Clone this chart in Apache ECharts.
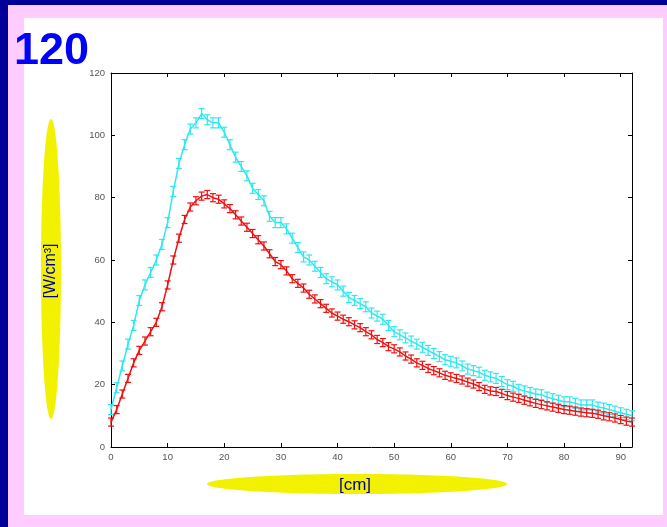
<!DOCTYPE html>
<html><head><meta charset="utf-8">
<script src="https://cdn.jsdelivr.net/npm/echarts@6/dist/echarts.min.js"></script>
<style>html,body{margin:0;padding:0;background:#000099}#c{width:667px;height:527px}</style>
</head><body><div id="c"></div>
<script>
const xPos = [0,1,2,3,4,5,6,7,8,9,10,11,12,13,14,15,16,17,18,19,20,21,22,23,24,25,26,27,28,29,30,31,32,33,34,35,36,37,38,39,40,41,42,43,44,45,46,47,48,49,50,51,52,53,54,55,56,57,58,59,60,61,62,63,64,65,66,67,68,69,70,71,72,73,74,75,76,77,78,79,80,81,82,83,84,85,86,87,88,89,90,91,92];
const cyanVals = [12,19,26,33,39,47,52,56,60,65,72,82,91,97,102,104,107,105,104,104,101,97,93,90,87,83,81,79,74,72,72,70,67,64,61,60,58,56,54,53,52,50,48,47,46,45,43,42,41,39,37,36,35,34,33,32,31,30,29,28,27.5,27,26,25,24.5,24,23,22.5,22,21,20,19.5,18.5,18,17.5,17,16.8,16,15.5,15,14.5,14.5,14,13.5,13.5,13.5,12.8,12.5,12,11.5,11,10.5,10];
const redVals = [8,12,17,22,27,31,34,37,40,45,52,60,67,73,77,79,80.5,81,80,79.5,78,76.5,74.5,72.5,70.5,68.5,66.5,64.5,62,59.5,58.5,56.5,54,52.5,51,49,47.5,46,44.5,43,42,41,40.2,39.2,38.3,37,36,34.5,33.5,32.2,31.5,30.5,29.2,28.2,27,26.2,25.2,24.5,23.8,23,22.5,22,21.5,20.8,20.2,19.4,18.5,18,17.8,17.2,16.5,16,15.6,15,14.5,14,13.6,13.2,12.8,12.4,12,11.8,11.5,11.2,11,10.8,10.5,10,9.7,9.3,8.8,8.3,8];
const cyanErr = 1.6;
const redErr = 1.3;
const xTicks = [0,10,20,30,40,50,60,70,80,90];
const yTicks = [0,20,40,60,80,100,120];
const yLabel = '[W/cm³]';
const xLabel = '[cm]';
const bigLabel = '120';

const chart = echarts.init(document.getElementById('c'), null, {renderer:'canvas'});
function pairs(ys){ return xPos.map((x,i)=>[x, ys[i]]); }
function errSeries(ys, err, color){
  return {
    type:'custom', xAxisIndex:0, yAxisIndex:0, z:3, silent:true,
    data: pairs(ys),
    renderItem: function(params, api){
      const x = api.value(0), y = api.value(1);
      const lo = api.coord([x, y-err]), hi = api.coord([x, y+err]);
      const st = {stroke: color, lineWidth: 1.2};
      return {type:'group', children:[
        {type:'line', shape:{x1:lo[0],y1:lo[1],x2:hi[0],y2:hi[1]}, style:st},
        {type:'line', shape:{x1:lo[0]-3,y1:lo[1],x2:lo[0]+3,y2:lo[1]}, style:st},
        {type:'line', shape:{x1:hi[0]-3,y1:hi[1],x2:hi[0]+3,y2:hi[1]}, style:st}
      ]};
    }
  };
}
const axLabelStyle = {color:'#555', fontSize:9.5, fontFamily:'Liberation Sans, Arial'};
chart.setOption({
  animation:false,
  backgroundColor:'transparent',
  graphic:[
    {type:'rect', z:-10, shape:{x:8,y:5,width:659,height:522}, style:{fill:'#ffccff'}},
    {type:'rect', z:-9, shape:{x:24,y:18,width:639,height:497}, style:{fill:'#ffffff'}},
    {type:'text', z:10, left:14, top:29, style:{text:bigLabel, fill:'#0000ff', font:'bold 45px "Liberation Sans", Arial'}},
    {type:'ellipse', z:-5, shape:{cx:51, cy:269, rx:10, ry:150}, style:{fill:'#f2f200'}},
    {type:'text', z:10, x:51, y:271, rotation:Math.PI/2, style:{text:yLabel, fill:'#000099', font:'16px "Liberation Sans", Arial', align:'center', verticalAlign:'middle'}},
    {type:'ellipse', z:-5, shape:{cx:357, cy:484, rx:150, ry:10}, style:{fill:'#f2f200'}},
    {type:'text', z:10, x:355, y:485, style:{text:xLabel, fill:'#000099', font:'17px "Liberation Sans", Arial', align:'center', verticalAlign:'middle'}}
  ],
  grid:{left:111, top:73, right:35, bottom:80, show:false},
  xAxis:[
    {type:'value', min:0, max:92, interval:10, position:'bottom',
     axisLine:{show:true, onZero:false, lineStyle:{color:'#000', width:1}},
     axisTick:{show:true, inside:true, length:4, lineStyle:{color:'#000'}},
     axisLabel:Object.assign({margin:5, showMaxLabel:false, formatter:v=>xTicks.includes(v)?String(v):''}, axLabelStyle),
     splitLine:{show:false}},
    {type:'value', min:0, max:92, interval:10, position:'top',
     axisLine:{show:true, onZero:false, lineStyle:{color:'#000', width:1}},
     axisTick:{show:true, inside:true, length:4, lineStyle:{color:'#000'}},
     axisLabel:{show:false}, splitLine:{show:false}}
  ],
  yAxis:[
    {type:'value', min:0, max:120, interval:20, position:'left',
     axisLine:{show:true, onZero:false, lineStyle:{color:'#000', width:1}},
     axisTick:{show:true, inside:true, length:4, lineStyle:{color:'#000'}},
     axisLabel:Object.assign({margin:6, formatter:v=>yTicks.includes(v)?String(v):''}, axLabelStyle),
     splitLine:{show:false}},
    {type:'value', min:0, max:120, interval:20, position:'right',
     axisLine:{show:true, onZero:false, lineStyle:{color:'#000', width:1}},
     axisTick:{show:true, inside:true, length:4, lineStyle:{color:'#000'}},
     axisLabel:{show:false}, splitLine:{show:false}}
  ],
  series:[
    {type:'line', data:pairs(cyanVals), showSymbol:false, symbol:'none', lineStyle:{color:'#2ee8f0', width:1.5}, z:2},
    errSeries(cyanVals, cyanErr, '#2ee8f0'),
    {type:'line', data:pairs(redVals), showSymbol:false, symbol:'none', lineStyle:{color:'#f01010', width:1.5}, z:4},
    errSeries(redVals, redErr, '#f01010')
  ]
});
</script></body></html>
